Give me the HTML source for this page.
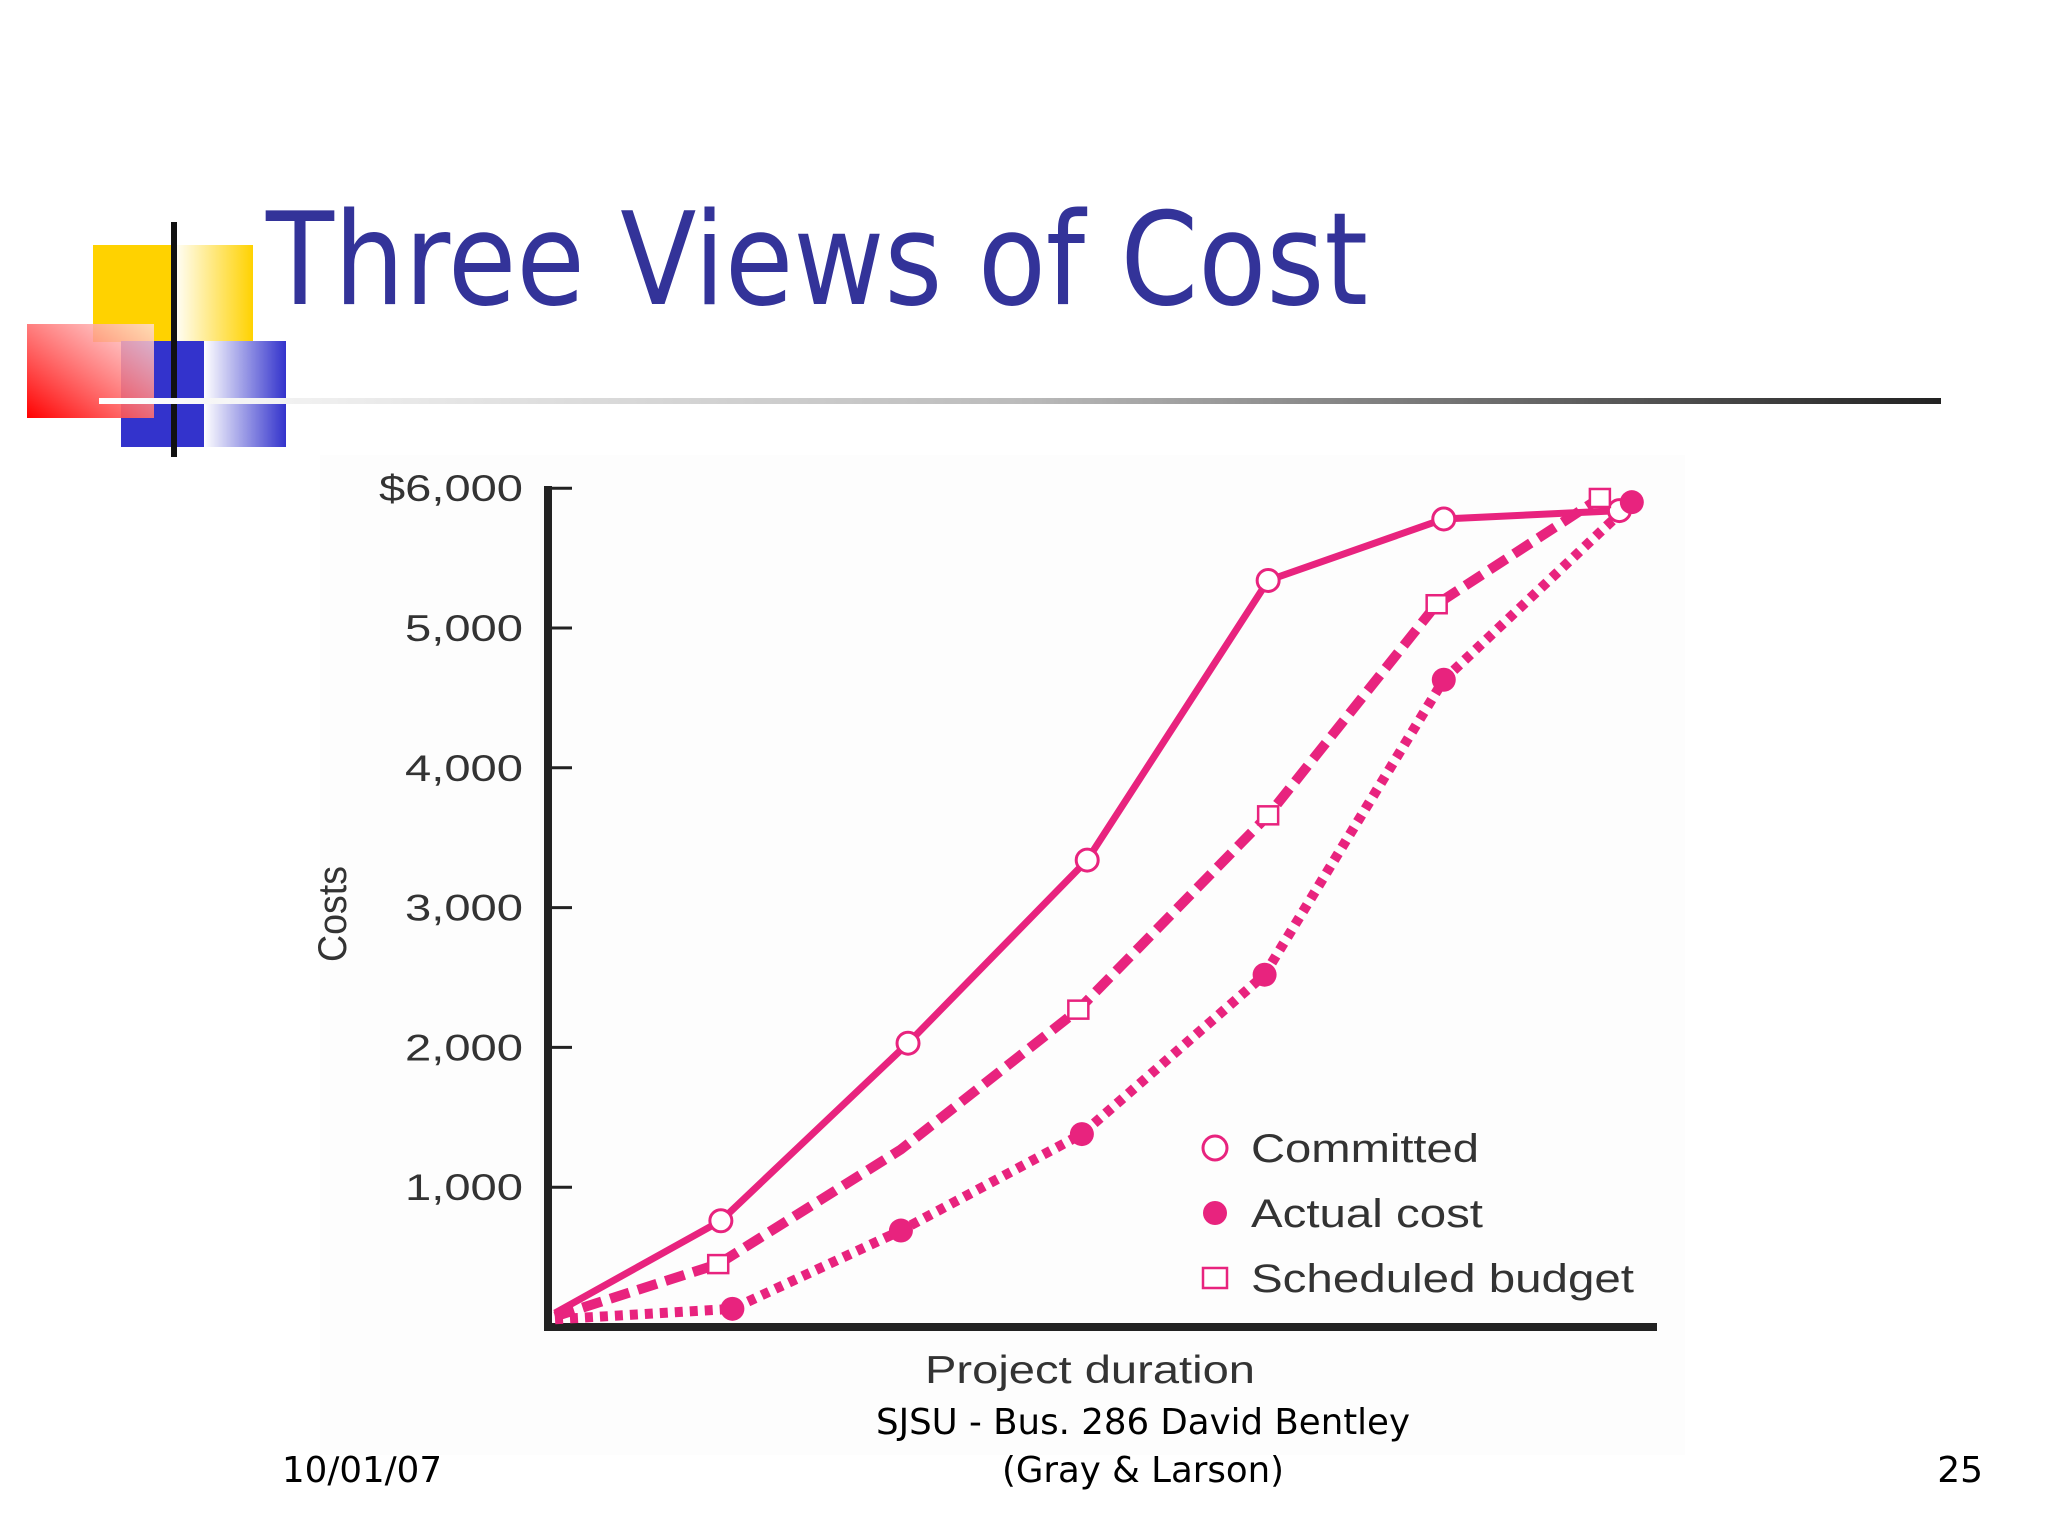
<!DOCTYPE html>
<html><head><meta charset="utf-8"><style>
html,body{margin:0;padding:0;background:#fff}
svg{display:block}
</style></head><body>
<svg id="slide" width="2048" height="1536" viewBox="0 0 2048 1536" xmlns="http://www.w3.org/2000/svg">
<defs>
<linearGradient id="gy" x1="0" x2="1"><stop offset="0" stop-color="#fff"/><stop offset="1" stop-color="#ffd200"/></linearGradient>
<linearGradient id="gb" x1="0" x2="1"><stop offset="0" stop-color="#fff"/><stop offset="1" stop-color="#3333cc"/></linearGradient>
<linearGradient id="gr" x1="1" y1="0" x2="0" y2="1"><stop offset="0" stop-color="#ffe0e0" stop-opacity="0.8"/><stop offset="1" stop-color="#ff0000"/></linearGradient>
<linearGradient id="gl" x1="0" x2="1"><stop offset="0" stop-color="#fff"/><stop offset="0.5" stop-color="#bbb"/><stop offset="1" stop-color="#222"/></linearGradient>
</defs>
<g>
<rect x="93" y="245" width="80" height="97" fill="#ffd200"/>
<rect x="173" y="245" width="80" height="97" fill="url(#gy)"/>
<rect x="121" y="341" width="83" height="106" fill="#3333cc"/>
<rect x="204" y="341" width="82" height="106" fill="url(#gb)"/>
<rect x="27" y="324" width="127" height="94" fill="url(#gr)"/>
<rect x="171" y="222" width="6" height="235" fill="#111"/>
</g>
<rect x="99" y="398" width="1842" height="6" fill="url(#gl)"/>
<text x="266" y="304" font-family="DejaVu Sans, sans-serif" font-size="128" fill="#333399" textLength="1102" lengthAdjust="spacingAndGlyphs">Three Views of Cost</text>
<rect x="320" y="455" width="1365" height="1000" fill="#fdfdfd"/>
<g id="chart"></g>
<text x="282" y="1482" font-family="DejaVu Sans, sans-serif" font-size="36" fill="#000" textLength="160" lengthAdjust="spacingAndGlyphs">10/01/07</text>
<text x="1143" y="1434" text-anchor="middle" font-family="DejaVu Sans, sans-serif" font-size="36" fill="#000" textLength="534" lengthAdjust="spacingAndGlyphs">SJSU - Bus. 286 David Bentley</text>
<text x="1143" y="1482" text-anchor="middle" font-family="DejaVu Sans, sans-serif" font-size="36" fill="#000" textLength="282" lengthAdjust="spacingAndGlyphs">(Gray &amp; Larson)</text>
<text x="1983" y="1482" text-anchor="end" font-family="DejaVu Sans, sans-serif" font-size="36" fill="#000">25</text>
</svg>
<script>
const yTicks = [1000, 2000, 3000, 4000, 5000, 6000];
const yTickLabels = ["1,000", "2,000", "3,000", "4,000", "5,000", "$6,000"];
const committedX = [0, 0.935, 1.99, 3.0, 4.02, 5.01, 6.0];
const committedY = [100, 760, 2030, 3340, 5340, 5780, 5840];
const budgetX = [0, 0.92, 1.95, 2.95, 4.02, 4.97, 5.89];
const budgetY = [75, 450, 1270, 2270, 3660, 5170, 5930];
const budgetMarkers = [false, true, false, true, true, true, true];
const actualX = [0, 1.0, 1.95, 2.97, 4.0, 5.01, 6.07];
const actualY = [55, 130, 690, 1380, 2520, 4630, 5900];
const legendLabels = ["Committed", "Actual cost", "Scheduled budget"];

const NS = "http://www.w3.org/2000/svg";
const chart = document.getElementById('chart');
const X0 = 555, XS = 177.4, Y0 = 1327, YS = 0.1398;
const C = "#e8237e";
function sx(p){ return X0 + p * XS; }
function sy(v){ return Y0 - v * YS; }
function mk(tag, attrs, parent){
  const e = document.createElementNS(NS, tag);
  for (const k in attrs) e.setAttribute(k, attrs[k]);
  (parent || chart).appendChild(e);
  return e;
}
let ya = mk('line', {x1:548, y1:486, x2:548, y2:1331, stroke:'#222', 'stroke-width':8});


let xa = mk('line', {x1:544, y1:1327, x2:1657, y2:1327, stroke:'#222', 'stroke-width':8});


yTicks.forEach((t, i) => {
  const tk = mk('line', {x1:548, y1:sy(t), x2:572, y2:sy(t), stroke:'#222', 'stroke-width':3});
  
  
  const w = yTickLabels[i].length === 6 ? 144 : 118;
  const tl = mk('text', {x:523, y:sy(t)+13, 'text-anchor':'end', 'font-family':'Liberation Sans, sans-serif', 'font-size':37, fill:'#333', textLength:w, lengthAdjust:'spacingAndGlyphs'});
  tl.textContent = yTickLabels[i];
  
  
});
let yt = mk('text', {x:0, y:0, transform:'translate(346,914) rotate(-90)', 'text-anchor':'middle', 'font-family':'Liberation Sans, sans-serif', 'font-size':40, fill:'#333', textLength:96, lengthAdjust:'spacingAndGlyphs'});
yt.textContent = 'Costs';


let xt = mk('text', {x:1090, y:1383, 'text-anchor':'middle', 'font-family':'Liberation Sans, sans-serif', 'font-size':39, fill:'#333', textLength:330, lengthAdjust:'spacingAndGlyphs'});
xt.textContent = 'Project duration';



function pts(xs, ys){ return xs.map((x, i) => sx(x) + ',' + sy(ys[i])).join(' '); }
let l1 = mk('polyline', {points: pts(budgetX, budgetY), fill:'none', stroke:C, 'stroke-width':10, 'stroke-dasharray':'20 9'});


let l2 = mk('polyline', {points: pts(actualX, actualY), fill:'none', stroke:C, 'stroke-width':10, 'stroke-dasharray':'8 7'});


let l3 = mk('polyline', {points: pts(committedX, committedY), fill:'none', stroke:C, 'stroke-width':7});



committedX.forEach((x, i) => {
  if (i === 0) return;
  const m = mk('circle', {cx:sx(x), cy:sy(committedY[i]), r:11, fill:'#fff', stroke:C, 'stroke-width':3});
  
  
});
actualX.forEach((x, i) => {
  if (i === 0) return;
  const m = mk('circle', {cx:sx(x), cy:sy(actualY[i]), r:12, fill:C});
  
  
});
budgetX.forEach((x, i) => {
  if (!budgetMarkers[i]) return;
  const m = mk('rect', {x:sx(x)-10, y:sy(budgetY[i])-9, width:20, height:18, fill:'#fff', stroke:C, 'stroke-width':2.5});
  
  
});

const ly = [1148, 1213, 1278];
const lw = [228, 232, 383];
legendLabels.forEach((lab, i) => {
  let sym;
  if (i === 0) sym = mk('circle', {cx:1215, cy:ly[i], r:12, fill:'#fff', stroke:C, 'stroke-width':3});
  else if (i === 1) sym = mk('circle', {cx:1215, cy:ly[i], r:12, fill:C});
  else sym = mk('rect', {x:1203, y:ly[i]-10, width:24, height:20, fill:'#fff', stroke:C, 'stroke-width':2.5});
  
  
  const t = mk('text', {x:1251, y:ly[i]+14, 'font-family':'Liberation Sans, sans-serif', 'font-size':40, fill:'#333', textLength:lw[i], lengthAdjust:'spacingAndGlyphs'});
  t.textContent = lab;
  
  
});
</script>
</body></html>
